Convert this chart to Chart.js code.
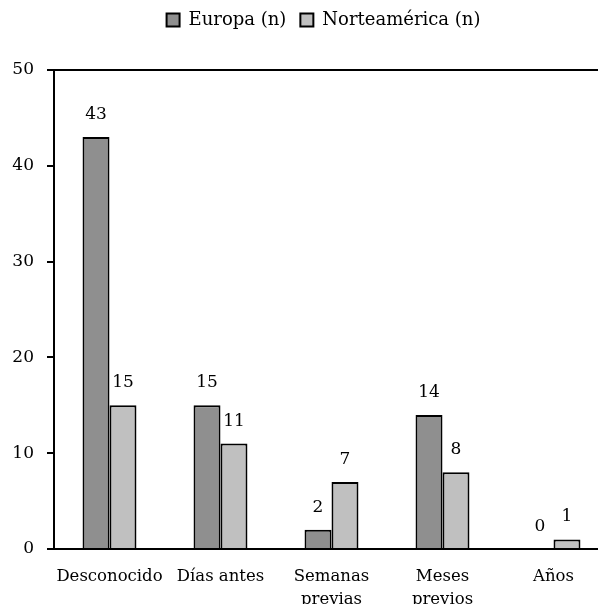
<!DOCTYPE html>
<html><head><meta charset="utf-8">
<script src="https://cdn.jsdelivr.net/npm/chart.js@4.4.0/dist/chart.umd.min.js"></script>
<style>html,body{margin:0;padding:0;overflow:hidden;background:#fff;width:598px;height:604px}canvas{display:block}</style>
</head><body>
<canvas id="c" width="612" height="614"></canvas>
<script>
const categories = [["Desconocido"], ["Días antes"], ["Semanas", "previas"], ["Meses", "previos"], ["Años"]];
const seriesNames = ["Europa (n)", "Norteamérica (n)"];
const europa = [43, 15, 2, 14, 0];
const norteamerica = [15, 11, 7, 8, 1];
const yMin = 0, yMax = 50, yStep = 10;

const FONT = "'DejaVu Serif', serif";

const labelPlugin = {
  id: 'barLabels',
  afterDatasetsDraw(chart) {
    const ctx = chart.ctx;
    ctx.save();
    ctx.font = "17px " + FONT;
    ctx.fillStyle = '#000';
    ctx.textAlign = 'center';
    ctx.textBaseline = 'alphabetic';
    chart.data.datasets.forEach((ds, i) => {
      const meta = chart.getDatasetMeta(i);
      meta.data.forEach((bar, j) => {
        ctx.fillText(String(ds.data[j]), bar.x, bar.y - 18);
      });
    });
    ctx.restore();
  }
};

const legendPlace = {
  id: 'legendPlace',
  beforeLayout(chart) {
    const lg = chart.legend;
    if (lg && !lg._patched) {
      const of = lg.fit.bind(lg);
      lg.fit = function () { of(); this.height = 70; };
      lg._patched = true;
    }
  },
  afterLayout(chart) {
    const lg = chart.legend;
    const dx = 19, dy = -3;
    lg.left += dx; lg.right += dx;
    lg.top += dy; lg.bottom += dy;
  }
};

new Chart(document.getElementById('c'), {
  type: 'bar',
  data: {
    labels: categories,
    datasets: [
      { label: seriesNames[0], data: europa, backgroundColor: '#8f8f8f', borderColor: '#000', borderWidth: 2, borderSkipped: 'bottom' },
      { label: seriesNames[1], data: norteamerica, backgroundColor: '#c0c0c0', borderColor: '#000', borderWidth: 2, borderSkipped: 'bottom' }
    ]
  },
  options: {
    responsive: false,
    animation: false,
    devicePixelRatio: 1,
    layout: { padding: { top: 0, right: 3, left: 0, bottom: 0 } },
    datasets: { bar: { categoryPercentage: 0.486, barPercentage: 1.0 } },
    plugins: {
      legend: {
        position: 'top',
        labels: {
          color: '#000',
          font: { family: FONT, size: 18 },
          boxWidth: 13, boxHeight: 13,
          padding: 14
        }
      },
      tooltip: { enabled: false }
    },
    scales: {
      x: {
        grid: { display: true, drawOnChartArea: false, drawTicks: false },
        border: { display: true, color: '#000', width: 2 },
        ticks: { color: '#000', font: { family: FONT, size: 16.5, lineHeight: 1.4 }, padding: 16, maxRotation: 0, autoSkip: false },
        afterFit(scale) { scale.height = 65; }
      },
      y: {
        min: yMin, max: yMax,
        grid: {
          drawOnChartArea: true,
          color: (c) => (c.tick && c.tick.value === yMax) ? '#000' : 'rgba(0,0,0,0)',
          tickColor: '#000', tickLength: 7, lineWidth: 2
        },
        border: { display: true, color: '#000', width: 2 },
        ticks: { stepSize: yStep, color: '#000', font: { family: FONT, size: 17 }, padding: 13 },
        afterFit(scale) { scale.width = 54; }
      }
    }
  },
  plugins: [labelPlugin, legendPlace]
});
</script>
</body></html>
